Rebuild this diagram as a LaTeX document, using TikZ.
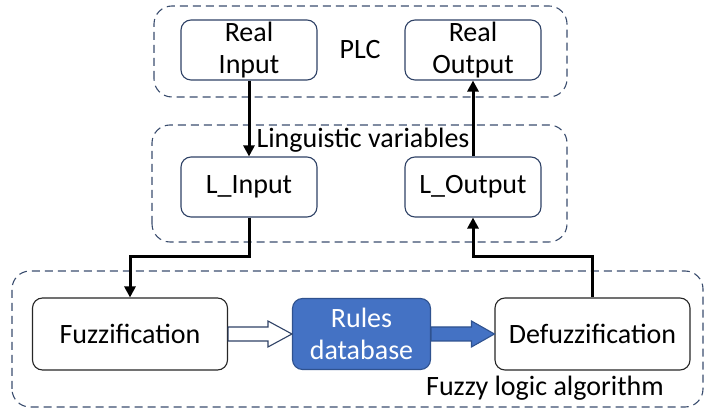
\documentclass[tikz,border=0pt]{standalone}
\usepackage{fontspec}
\setmainfont{Carlito}
\usetikzlibrary{arrows.meta,calc}
\definecolor{grpline}{HTML}{3A4D6E}
\definecolor{boxline}{HTML}{2F4266}
\definecolor{rulesfill}{HTML}{4472C4}
\definecolor{rulesline}{HTML}{2F528F}
\tikzset{
  x=1pt, y=1pt,
  every node/.style={font=\fontsize{28}{32}\selectfont, align=center, inner sep=0pt},
  group/.style={draw=grpline, line width=1.1pt, dash pattern=on 8pt off 5pt, rounded corners=18pt},
  plcbox/.style={draw=boxline, line width=1.1pt, rounded corners=10pt, fill=white,
    minimum width=136pt, minimum height=60pt},
  algbox/.style={draw=black!85, line width=1.1pt, rounded corners=10pt, fill=white,
    minimum width=195pt, minimum height=72pt},
  rulesbox/.style={draw=rulesline, line width=1.1pt, rounded corners=10pt, fill=rulesfill,
    text=white, minimum width=138pt, minimum height=71pt},
  flow/.style={line width=3pt, -{Triangle[length=11pt,width=11pt]}},
  bigarrow/.style={line width=1.1pt, line join=miter}
}
\begin{document}
\begin{tikzpicture}
\useasboundingbox (0,0) rectangle (706,409);
% dashed groups
\draw[group] (154,312) rectangle (567,403);
\draw[group] (152,167) rectangle (567,284);
\draw[group] (12,2) rectangle (703,138);
% PLC level
\node[plcbox] (rin)  at (249,359) {Real\\Input};
\node[plcbox] (rout) at (473,359) {Real\\Output};
\node (plc) at (360,359) {PLC};
% linguistic level
\node[plcbox] (lin)  at (249,222) {L\_Input};
\node[plcbox] (lout) at (473,222) {L\_Output};
\node (ling) at (363,269) {Linguistic variables};
% algorithm level
\node[algbox] (fuzz)   at (130,75) {Fuzzification};
\node[rulesbox] (rules) at (361.5,75) {Rules\\database};
\node[algbox] (defuzz) at (592.5,75) {Defuzzification};
\node[anchor=east] (alg) at (664,21) {Fuzzy logic algorithm};
% connectors between levels
\draw[flow] (rin.south) -- (lin.north);
\draw[flow] (lout.north) -- (rout.south);
\coordinate (jl) at (130,152);
\coordinate (jr) at (473,152);
\draw[flow] (lin.south) |- (jl) -- (fuzz.north);
\draw[flow] (defuzz.north) |- (jr) -- (lout.south);
% block arrows inside the algorithm
\draw[bigarrow, draw=boxline, fill=white]
  ($(fuzz.east)+(0,7)$) -- ($(rules.west)+(-24,7)$) -- ($(rules.west)+(-24,13)$)
  -- (rules.west) -- ($(rules.west)+(-24,-13)$) -- ($(rules.west)+(-24,-7)$)
  -- ($(fuzz.east)+(0,-7)$) -- cycle;
\draw[bigarrow, draw=rulesline, fill=rulesfill]
  ($(rules.east)+(0,7)$) -- ($(defuzz.west)+(-23,7)$) -- ($(defuzz.west)+(-23,13)$)
  -- (defuzz.west) -- ($(defuzz.west)+(-23,-13)$) -- ($(defuzz.west)+(-23,-7)$)
  -- ($(rules.east)+(0,-7)$) -- cycle;
\end{tikzpicture}
\end{document}
